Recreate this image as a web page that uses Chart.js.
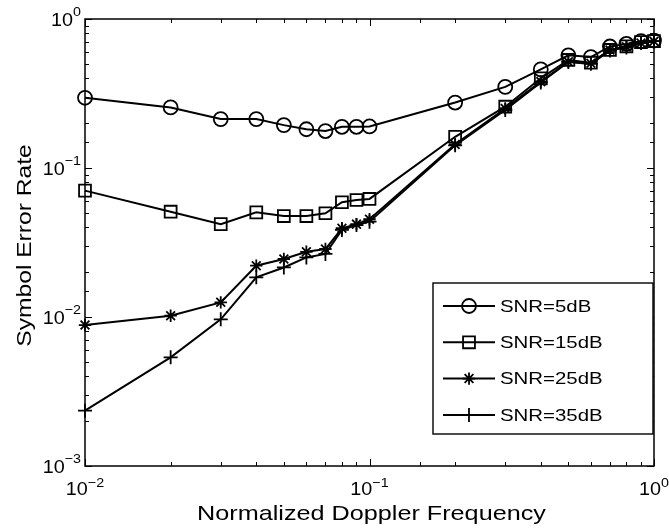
<!DOCTYPE html>
<html>
<head>
<meta charset="utf-8">
<title>Symbol Error Rate vs Normalized Doppler Frequency</title>
<script src="https://cdn.jsdelivr.net/npm/chart.js@4.4.1/dist/chart.umd.min.js"></script>
<style>
  html, body { margin: 0; padding: 0; background: #fff; }
</style>
</head>
<body>
<canvas id="myChart" width="669" height="529"></canvas>
<script>
// x values (normalized Doppler frequency)
const freq = [0.01, 0.02, 0.03, 0.04, 0.05, 0.06, 0.07, 0.08, 0.09, 0.1,
              0.2, 0.3, 0.4, 0.5, 0.6, 0.7, 0.8, 0.9, 1.0];

// symbol error rate per SNR
const ser5  = [0.296, 0.255, 0.213, 0.213, 0.194, 0.182, 0.177, 0.189, 0.189, 0.19,
               0.275, 0.35, 0.459, 0.57, 0.555, 0.654, 0.68, 0.71, 0.717];
const ser15 = [0.0705, 0.0509, 0.042, 0.0504, 0.0476, 0.0476, 0.0497, 0.0589, 0.061, 0.062,
               0.162, 0.258, 0.40, 0.531, 0.509, 0.62, 0.655, 0.70, 0.71];
const ser25 = [0.00883, 0.0102, 0.01254, 0.0221, 0.0245, 0.0274, 0.0286, 0.0394, 0.042, 0.0453,
               0.144, 0.251, 0.38, 0.517, 0.505, 0.62, 0.65, 0.69, 0.71];
const ser35 = [0.00235, 0.00536, 0.00964, 0.01846, 0.0215, 0.0251, 0.0265, 0.0384, 0.0414, 0.0436,
               0.142, 0.245, 0.375, 0.515, 0.50, 0.615, 0.645, 0.69, 0.71];

const seriesNames = ['SNR=5dB', 'SNR=15dB', 'SNR=25dB', 'SNR=35dB'];

// tick labels (decades only), base + exponent
const xDecades = [0.01, 0.1, 1];
const xTickLabels = [['10', '\u22122'], ['10', '\u22121'], ['10', '0']];
const yDecades = [0.001, 0.01, 0.1, 1];
const yTickLabels = [['10', '\u22123'], ['10', '\u22122'], ['10', '\u22121'], ['10', '0']];

const xTitle = 'Normalized Doppler Frequency';
const yTitle = 'Symbol Error Rate';

const FONT = "'Liberation Sans', Arial, Helvetica, sans-serif";
const SX = 1.2; // the original's text runs wider than Liberation Sans

function isDecade(v) {
  const e = Math.round(Math.log10(v));
  return Math.abs(v - Math.pow(10, e)) < v * 1e-6;
}

// text drawn a bit wider than the font itself
function wideText(ctx, text, x, y, sx, align) {
  ctx.save();
  ctx.translate(x, y);
  ctx.scale(sx, 1);
  ctx.textAlign = align || 'left';
  ctx.fillText(text, 0, 0);
  ctx.restore();
}

function series(label, values, style, radius, order) {
  return {
    label: label,
    data: freq.map((f, i) => ({ x: f, y: values[i] })),
    borderColor: '#000',
    borderWidth: 2,
    pointStyle: style,
    pointRadius: radius,
    pointBorderColor: '#000',
    pointBackgroundColor: 'rgba(0,0,0,0)',
    pointBorderWidth: 1.8,
    fill: false,
    tension: 0,
    clip: false,
    order: order
  };
}

const data = {
  datasets: [
    series(seriesNames[0], ser5, 'circle', 7, 4),
    series(seriesNames[1], ser15, 'rect', 8.4, 3),
    series(seriesNames[2], ser25, 'star', 6.2, 2),
    series(seriesNames[3], ser35, 'cross', 7, 1)
  ]
};

// box around plot, inward ticks on all four sides, tick labels and titles
const frame = {
  id: 'frame',
  afterDatasetsDraw(chart) {
    const { ctx, chartArea: a, scales: { x, y } } = chart;
    ctx.save();
    ctx.strokeStyle = '#000';
    ctx.lineWidth = 1;
    ctx.beginPath();
    x.ticks.forEach(t => {
      const px = Math.round(x.getPixelForValue(t.value)) + 0.5;
      const len = isDecade(t.value) ? 7 : 4;
      ctx.moveTo(px, a.bottom); ctx.lineTo(px, a.bottom - len);
      ctx.moveTo(px, a.top); ctx.lineTo(px, a.top + len);
    });
    y.ticks.forEach(t => {
      const py = Math.round(y.getPixelForValue(t.value)) + 0.5;
      const len = isDecade(t.value) ? 7 : 4;
      ctx.moveTo(a.left, py); ctx.lineTo(a.left + len, py);
      ctx.moveTo(a.right, py); ctx.lineTo(a.right - len, py);
    });
    ctx.stroke();
    ctx.lineWidth = 1.5;
    ctx.strokeRect(a.left, a.top, a.right - a.left, a.bottom - a.top);

    ctx.fillStyle = '#000';
    ctx.textBaseline = 'alphabetic';
    const baseFont = '18px ' + FONT, expFont = '13px ' + FONT, tsx = 1.1;

    xDecades.forEach((d, i) => {
      const px = x.getPixelForValue(d);
      const [b, e] = xTickLabels[i];
      ctx.font = baseFont; const wb = ctx.measureText(b).width * tsx;
      ctx.font = expFont; const we = ctx.measureText(e).width * tsx;
      const start = px - (wb + we) / 2;
      ctx.font = baseFont; wideText(ctx, b, start, a.bottom + 29, tsx);
      ctx.font = expFont; wideText(ctx, e, start + wb, a.bottom + 21, tsx);
    });

    yDecades.forEach((d, i) => {
      const py = y.getPixelForValue(d);
      const [b, e] = yTickLabels[i];
      ctx.font = expFont; const we = ctx.measureText(e).width * tsx;
      const end = a.left - 4;
      wideText(ctx, e, end - we, py - 3, tsx);
      ctx.font = baseFont;
      wideText(ctx, b, end - we, py + 6.5, tsx, 'right');
    });

    // axis titles
    ctx.font = '21px ' + FONT;
    wideText(ctx, xTitle, (a.left + a.right) / 2 + 2, 520, SX, 'center');

    ctx.save();
    ctx.translate(31, (a.top + a.bottom) / 2 + 3);
    ctx.rotate(-Math.PI / 2);
    ctx.font = '20px ' + FONT;
    wideText(ctx, yTitle, 0, 0, 1.23, 'center');
    ctx.restore();

    ctx.restore();
  }
};

// legend box in lower right corner of the plot
const boxLegend = {
  id: 'boxLegend',
  afterDraw(chart) {
    const { ctx, chartArea: a } = chart;
    const w = 220, h = 151;
    const left = a.right - w - 1, top = a.bottom - 32 - h;
    ctx.save();
    ctx.fillStyle = '#fff';
    ctx.fillRect(left, top, w, h);
    ctx.strokeStyle = '#000';
    ctx.lineWidth = 1.4;
    ctx.strokeRect(left, top, w, h);
    chart.data.datasets.forEach((ds, i) => {
      const yy = top + 23 + i * 36.3;
      ctx.strokeStyle = '#000';
      ctx.lineWidth = 2;
      ctx.beginPath();
      ctx.moveTo(left + 10, yy);
      ctx.lineTo(left + 62, yy);
      ctx.stroke();
      ctx.fillStyle = 'rgba(0,0,0,0)';
      ctx.lineWidth = ds.pointBorderWidth;
      Chart.helpers.drawPoint(ctx, {
        pointStyle: ds.pointStyle,
        radius: ds.pointRadius,
        rotation: 0,
        borderWidth: ds.pointBorderWidth
      }, left + 36, yy);
      ctx.fillStyle = '#000';
      ctx.font = '17px ' + FONT;
      ctx.textBaseline = 'middle';
      wideText(ctx, ds.label, left + 67, yy + 1, SX);
    });
    ctx.restore();
  }
};

const config = {
  type: 'line',
  data: data,
  options: {
    responsive: false,
    animation: false,
    layout: { padding: { top: 19, right: 15, left: 0, bottom: 0 } },
    plugins: {
      legend: { display: false },
      tooltip: { enabled: false }
    },
    scales: {
      x: {
        type: 'logarithmic',
        min: 0.01,
        max: 1,
        grid: { display: false },
        border: { display: false },
        ticks: { display: false, autoSkip: false },
        afterFit(s) { s.height = 63; s.paddingLeft = 0; s.paddingRight = 0; }
      },
      y: {
        type: 'logarithmic',
        min: 0.001,
        max: 1,
        grid: { display: false },
        border: { display: false },
        ticks: { display: false, autoSkip: false },
        afterFit(s) { s.width = 85; s.paddingTop = 0; s.paddingBottom = 0; }
      }
    }
  },
  plugins: [frame, boxLegend]
};

new Chart(document.getElementById('myChart').getContext('2d'), config);
</script>
</body>
</html>
